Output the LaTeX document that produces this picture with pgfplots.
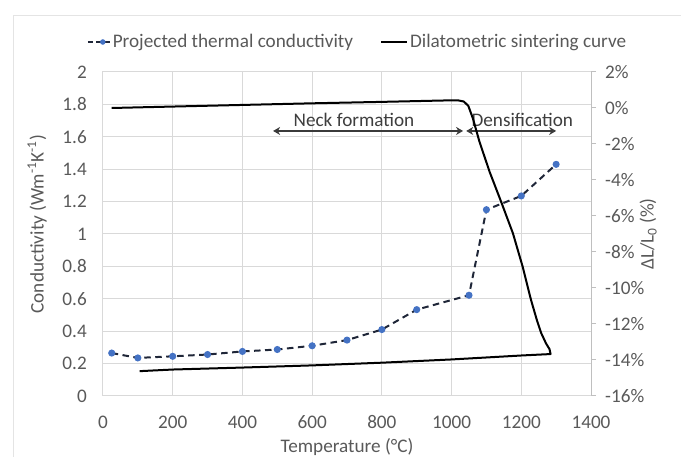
\documentclass[border=0pt]{standalone}
\usepackage{fontspec}
\setmainfont{Carlito}
\usepackage{pgfplots}
\pgfplotsset{compat=1.18}
\usetikzlibrary{arrows.meta}
\definecolor{txt}{HTML}{595959}
\definecolor{gridc}{HTML}{D9D9D9}
\definecolor{axisc}{HTML}{BFBFBF}
\definecolor{mblue}{HTML}{4472C4}
\definecolor{dline}{HTML}{1F2638}
\definecolor{arrowc}{HTML}{3A3A3A}
\newcommand{\fsz}{\fontsize{19.2}{23}\selectfont}
\begin{document}
\begin{tikzpicture}[x=1pt,y=1pt]
\useasboundingbox (0,0) rectangle (681,457);
\draw[gridc!70, line width=0.8pt] (13,0) -- (13,442) -- (681,442);

\begin{axis}[
  at={(103pt,61pt)}, anchor=south west,
  scale only axis, width=488pt, height=324pt,
  xmin=0, xmax=1400, ymin=0, ymax=2,
  xtick={0,200,400,600,800,1000,1200,1400},
  xticklabels={0,200,400,600,800,1000,1200,1400},
  ytick={0,0.2,0.4,0.6,0.8,1,1.2,1.4,1.6,1.8,2},
  yticklabels={0,0.2,0.4,0.6,0.8,1,1.2,1.4,1.6,1.8,2},
  grid=major, major grid style={draw=gridc, line width=1pt},
  axis line style={draw=gridc, line width=1pt},
  major tick length=0pt,
  tick label style={font=\fsz, text=txt, inner sep=0pt},
  xticklabel style={anchor=base, yshift=-33pt},
  yticklabel style={anchor=east, xshift=-16pt},
  xlabel={Temperature (°C)},
  xlabel style={at={(axis description cs:0.5,-0.157)}, anchor=center, font=\fsz, text=txt},
  ylabel={Conductivity (Wm\textsuperscript{-1}K\textsuperscript{-1})},
  ylabel style={at={(axis description cs:-0.135,0.53)}, anchor=center, font=\fsz, text=txt},
  clip=false,
]
\addplot[dline, line width=2pt, dash pattern=on 6.5pt off 4.5pt,
  mark=*, mark size=2.5pt, mark options={solid, fill=mblue, draw=mblue}]
  coordinates {
  (25,0.265) (100,0.235) (200,0.245) (300,0.256) (400,0.275) (500,0.287)
  (600,0.31) (700,0.345) (800,0.41) (900,0.533) (1050,0.622)
  (1100,1.15) (1200,1.235) (1300,1.43)
  };
\draw[{Stealth[length=7pt,width=8pt]}-{Stealth[length=7pt,width=8pt]}, line width=1.5pt, draw=arrowc]
  (axis cs:488,1.636) -- (axis cs:1033,1.636);
\draw[{Stealth[length=7pt,width=8pt]}-{Stealth[length=7pt,width=8pt]}, line width=1.5pt, draw=arrowc]
  (axis cs:1042,1.636) -- (axis cs:1300,1.636);
\node[font=\fsz, text=txt!70!black, anchor=base] at (axis cs:720,1.665) {Neck formation};
\node[font=\fsz, text=txt!70!black, anchor=base] at (axis cs:1203,1.665) {Densification};
\end{axis}

\begin{axis}[
  at={(103pt,61pt)}, anchor=south west,
  scale only axis, width=488pt, height=324pt,
  xmin=0, xmax=1400, ymin=-16, ymax=2,
  axis x line=none, axis y line*=right,
  ytick={-16,-14,-12,-10,-8,-6,-4,-2,0,2},
  yticklabels={-16\%,-14\%,-12\%,-10\%,-8\%,-6\%,-4\%,-2\%,0\%,2\%},
  y axis line style={draw=axisc, line width=1pt, -},
  ytick style={draw=axisc, line width=1pt},
  tick align=outside, major tick length=5pt,
  tick label style={font=\fsz, text=txt, inner sep=0pt},
  yticklabel style={anchor=west, xshift=9pt},
  ylabel={ΔL/L\textsubscript{0} (\%)},
  ylabel style={at={(axis description cs:1.117,0.5)}, anchor=center, font=\fsz, text=txt},
  legend style={at={(axis description cs:0.5215,1.0926)}, anchor=center, draw=none, fill=none,
    font=\fsz, text=txt, inner sep=0pt,
    /tikz/every even column/.append style={column sep=25pt}},
  legend columns=2, legend cell align=left,
  clip=false,
]
\addlegendimage{legend image code/.code={
  \draw[dline, line width=2pt, dash pattern=on 5pt off 3.5pt] (0pt,0pt) -- (22pt,0pt);
  \fill[mblue] (15pt,0pt) circle (2.5pt);}}
\addlegendentry{Projected thermal conductivity}
\addplot[black, line width=2pt, line join=round,
  legend image code/.code={\draw[black, line width=2pt] (0pt,0pt) -- (26pt,0pt);}]
  coordinates {
  (25,0.0) (200,0.08) (400,0.17) (600,0.26) (800,0.34) (985,0.42)
  (1017,0.43) (1035,0.36) (1048,0.12) (1061,-0.57) (1080,-1.87)
  (1109,-3.54) (1142,-5.2) (1176,-6.96) (1204,-8.82)
  (1228,-10.67) (1245,-11.8) (1257,-12.5) (1271,-13.08) (1281,-13.4)
  (1284,-13.67)
  (1200,-13.75) (1000,-13.97) (800,-14.15) (600,-14.3) (400,-14.42)
  (200,-14.53) (105,-14.62)
  };
\addlegendentry{Dilatometric sintering curve}
\end{axis}
\end{tikzpicture}
\end{document}
